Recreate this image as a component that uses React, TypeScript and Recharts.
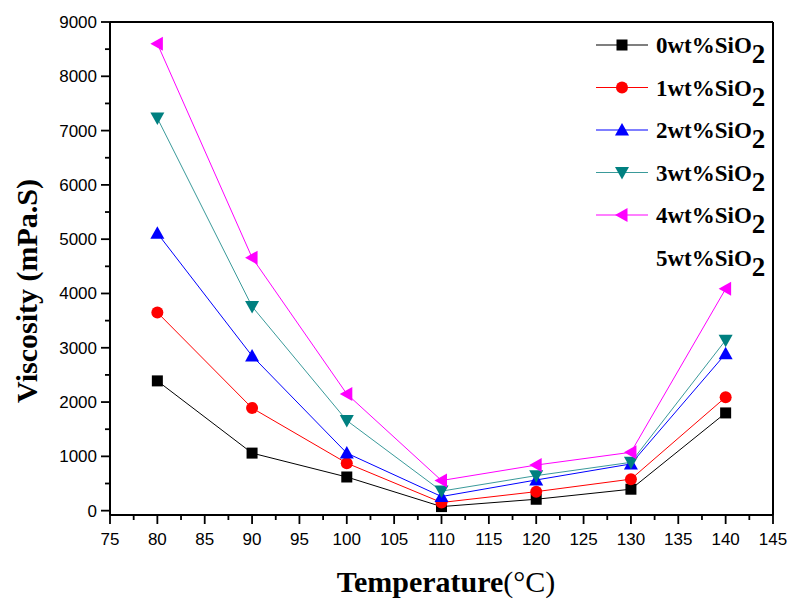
import React from 'react';
import { LineChart, Line, XAxis, YAxis, ReferenceLine, Legend } from 'recharts';

const temps = [80, 90, 100, 110, 120, 130, 140];
const visc0 = [2390, 1060, 620, 75, 210, 395, 1800];
const visc1 = [3650, 1890, 875, 150, 350, 580, 2090];
const visc2 = [5110, 2850, 1060, 260, 565, 860, 2890];
const visc3 = [7230, 3760, 1660, 360, 645, 890, 3140];
const visc4 = [8600, 4660, 2150, 555, 840, 1075, 4085];

const xTicks = [75, 80, 85, 90, 95, 100, 105, 110, 115, 120, 125, 130, 135, 140, 145];
const xMinorTicks = [77.5, 82.5, 87.5, 92.5, 97.5, 102.5, 107.5, 112.5, 117.5, 122.5, 127.5, 132.5, 137.5, 142.5];
const yTicks = [0, 1000, 2000, 3000, 4000, 5000, 6000, 7000, 8000, 9000];
const yMinorTicks = [500, 1500, 2500, 3500, 4500, 5500, 6500, 7500, 8500];

const data = temps.map((t, i) => ({
  t,
  s0: visc0[i],
  s1: visc1[i],
  s2: visc2[i],
  s3: visc3[i],
  s4: visc4[i],
}));

type Shape = 'square' | 'circle' | 'up' | 'down' | 'left' | 'none';

const series: { key: string; name: string; line: string; fill: string; shape: Shape }[] = [
  { key: 's0', name: '0wt%SiO', line: '#000000', fill: '#000000', shape: 'square' },
  { key: 's1', name: '1wt%SiO', line: '#ff0000', fill: '#ff0000', shape: 'circle' },
  { key: 's2', name: '2wt%SiO', line: '#0000ff', fill: '#0000ff', shape: 'up' },
  { key: 's3', name: '3wt%SiO', line: '#3a9a9a', fill: '#008080', shape: 'down' },
  { key: 's4', name: '4wt%SiO', line: '#ff00ff', fill: '#ff00ff', shape: 'left' },
  { key: 's5', name: '5wt%SiO', line: 'none', fill: 'none', shape: 'none' },
];

const SERIF = '"Liberation Serif", "Times New Roman", serif';
const SANS = '"Liberation Sans", Arial, sans-serif';

function Marker({ cx, cy, shape, fill }: { cx: number; cy: number; shape: Shape; fill: string }) {
  if (cx == null || cy == null || isNaN(cx) || isNaN(cy)) return null;
  switch (shape) {
    case 'square':
      return <rect x={cx - 5.5} y={cy - 5.5} width={11} height={11} fill={fill} />;
    case 'circle':
      return <circle cx={cx} cy={cy} r={6} fill={fill} />;
    case 'up':
      return <polygon points={`${cx},${cy - 7} ${cx - 7},${cy + 5.5} ${cx + 7},${cy + 5.5}`} fill={fill} />;
    case 'down':
      return <polygon points={`${cx},${cy + 7} ${cx - 7},${cy - 5.5} ${cx + 7},${cy - 5.5}`} fill={fill} />;
    case 'left':
      return <polygon points={`${cx - 7},${cy} ${cx + 5.5},${cy - 7} ${cx + 5.5},${cy + 7}`} fill={fill} />;
    default:
      return null;
  }
}

const XTick = (props: any) => {
  const { x, y, payload } = props;
  const v = payload.value;
  const major = Math.abs(v % 5) < 1e-6;
  return (
    <g>
      <line x1={x} y1={y} x2={x} y2={y + (major ? 9 : 5)} stroke="#000" strokeWidth={1.8} />
      {major && (
        <text x={x} y={y + 30} textAnchor="middle" fontFamily={SANS} fontSize={17} fill="#000">
          {v}
        </text>
      )}
    </g>
  );
};

const YTick = (props: any) => {
  const { x, y, payload } = props;
  const v = payload.value;
  const major = Math.abs(v % 1000) < 1e-6;
  return (
    <g>
      <line x1={x} y1={y} x2={x - (major ? 9 : 5)} y2={y} stroke="#000" strokeWidth={1.8} />
      {major && (
        <text x={x - 13} y={y + 6} textAnchor="end" fontFamily={SANS} fontSize={17} fill="#000">
          {v}
        </text>
      )}
    </g>
  );
};

const LegendContent = () => {
  const rowY = [45, 87.5, 130, 172.5, 215, 257.5];
  return (
    <svg width={793} height={602} style={{ position: 'absolute', left: 0, top: 0, pointerEvents: 'none' }}>
      {series.map((s, i) => {
        const y = rowY[i];
        return (
          <g key={s.key}>
            {s.shape !== 'none' && (
              <line x1={596} y1={y} x2={648} y2={y} stroke={s.line} strokeWidth={1.2} />
            )}
            <Marker cx={622} cy={y} shape={s.shape} fill={s.fill} />
            <text x={656} y={y + 8} fontFamily={SERIF} fontWeight="bold" fontSize={23} fill="#000">
              {s.name}
              <tspan dy={10} fontSize={27}>2</tspan>
            </text>
          </g>
        );
      })}
    </svg>
  );
};

export default function App() {
  return (
    <div style={{ position: 'absolute', left: 0, top: 0, width: 793, height: 602, background: '#fff' }}>
      <LineChart width={793} height={602} data={data} margin={{ top: 22, right: 20, bottom: 27, left: 0 }}>
        <XAxis
          dataKey="t"
          type="number"
          domain={[75, 145]}
          ticks={[...xTicks, ...xMinorTicks].sort((a, b) => a - b)}
          interval={0}
          height={60}
          tickSize={0}
          tickMargin={0}
          tick={<XTick />}
          axisLine={{ stroke: '#000', strokeWidth: 2 }}
          tickLine={false}
          allowDataOverflow
          label={{
            content: () => (
              <text x={446} y={592} textAnchor="middle" fontFamily={SERIF} fontSize={30} fill="#000">
                <tspan fontWeight="bold">Temperature</tspan>
                <tspan>(°C)</tspan>
              </text>
            ),
          }}
        />
        <YAxis
          type="number"
          domain={[-80, 9000]}
          ticks={[...yTicks, ...yMinorTicks].sort((a, b) => a - b)}
          interval={0}
          width={110}
          tickSize={0}
          tickMargin={0}
          tick={<YTick />}
          axisLine={{ stroke: '#000', strokeWidth: 2 }}
          tickLine={false}
          allowDataOverflow
          label={{
            content: () => (
              <text
                x={37}
                y={291}
                transform="rotate(-90 37 291)"
                textAnchor="middle"
                fontFamily={SERIF}
                fontWeight="bold"
                fontSize={30}
                fill="#000"
              >
                Viscosity (mPa.S)
              </text>
            ),
          }}
        />
        <ReferenceLine y={9000} stroke="#000" strokeWidth={2} />
        <ReferenceLine x={145} stroke="#000" strokeWidth={2} />
        <Legend layout="horizontal" verticalAlign="middle" align="center" content={<LegendContent />}
          wrapperStyle={{ position: 'absolute', left: 0, top: 0, width: 793, height: 602, pointerEvents: 'none' }} />
        {series
          .filter((s) => s.shape !== 'none')
          .map((s) => (
            <Line
              key={s.key}
              dataKey={s.key}
              name={s.name}
              stroke={s.line}
              strokeWidth={1}
              isAnimationActive={false}
              dot={(p: any) => <Marker key={`${s.key}-${p.index}`} cx={p.cx} cy={p.cy} shape={s.shape} fill={s.fill} />}
              activeDot={false}
            />
          ))}
      </LineChart>
    </div>
  );
}
